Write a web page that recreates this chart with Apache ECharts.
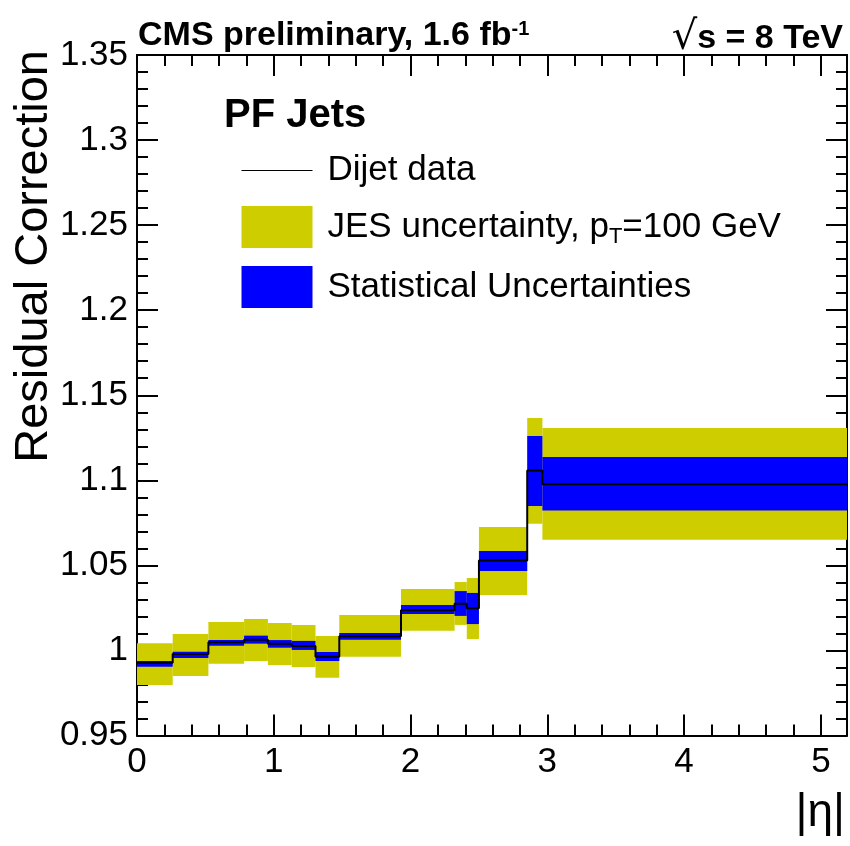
<!DOCTYPE html>
<html>
<head>
<meta charset="utf-8">
<script src="https://cdn.jsdelivr.net/npm/echarts@6/dist/echarts.min.js"></script>
<style>
html,body{margin:0;padding:0;background:#fff;}
#chart{width:850px;height:846px;}
</style>
</head>
<body>
<div id="chart"></div>
<script>
// |eta| bin edges
const etaEdges = [0, 0.261, 0.522, 0.783, 0.957, 1.131, 1.305, 1.479, 1.93, 2.322, 2.411, 2.5, 2.853, 2.964, 5.191];
// Dijet data residual correction (central value per bin)
const dijetValues = [0.9928, 0.9979, 1.0048, 1.0063, 1.0040, 1.0026, 0.9963, 1.0084, 1.0236, 1.0275, 1.0248, 1.0528, 1.1057, 1.0977];
// Statistical uncertainty band
const statLow  = [0.9904, 0.9956, 1.0028, 1.0040, 1.0016, 1.0003, 0.9938, 1.0063, 1.0214, 1.0203, 1.0155, 1.0467, 1.0849, 1.0822];
const statHigh = [0.9938, 0.9993, 1.0061, 1.0087, 1.0061, 1.0056, 0.9991, 1.0103, 1.0267, 1.0349, 1.0338, 1.0585, 1.1261, 1.1137];
// JES uncertainty band, pT = 100 GeV
const jesLow   = [0.9797, 0.9850, 0.9922, 0.9938, 0.9914, 0.9903, 0.9840, 0.9963, 1.0116, 1.0150, 1.0067, 1.0326, 1.0745, 1.0651];
const jesHigh  = [1.0042, 1.0097, 1.0167, 1.0185, 1.0161, 1.0150, 1.0085, 1.0208, 1.0361, 1.0402, 1.0426, 1.0726, 1.1367, 1.1308];

const xTickLabels = ['0', '1', '2', '3', '4', '5'];
const yTickLabels = ['0.95', '1', '1.05', '1.1', '1.15', '1.2', '1.25', '1.3', '1.35'];

const NAME_DATA = 'Dijet data';
const NAME_JES = 'JES uncertainty, pT=100 GeV';
const NAME_STAT = 'Statistical Uncertainties';

const FONT = 'Liberation Sans, Arial, Helvetica, sans-serif';

function bandData(lo, hi) {
  return etaEdges.slice(0, -1).map((e, i) => [e, etaEdges[i + 1], lo[i], hi[i]]);
}
const lineData = dijetValues.map((v, i) => [etaEdges[i], v]);
lineData.push([etaEdges[etaEdges.length - 1], dijetValues[dijetValues.length - 1]]);

function renderBand(params, api) {
  const a = api.coord([api.value(0), api.value(3)]);
  const b = api.coord([api.value(1), api.value(2)]);
  return {
    type: 'rect',
    shape: { x: a[0], y: a[1], width: b[0] - a[0], height: b[1] - a[1] },
    style: { fill: api.visual('color') }
  };
}

const xMin = 0, xMax = 5.191, yMin = 0.95, yMax = 1.35;

function xAxisCfg(pos, showLabel) {
  return {
    type: 'value', position: pos, min: xMin, max: xMax, interval: 1,
    axisLine: { show: true, onZero: false, lineStyle: { color: '#000', width: 2 } },
    axisTick: { show: true, inside: true, length: 21, lineStyle: { color: '#000', width: 2 } },
    minorTick: { show: true, splitNumber: 5, length: 11, lineStyle: { color: '#000', width: 2 } },
    splitLine: { show: false },
    axisLabel: {
      show: showLabel, margin: 9, color: '#000', fontSize: 35, fontFamily: FONT,
      formatter: v => { const i = Math.round(v); return Math.abs(v - i) < 1e-6 && i < xTickLabels.length ? xTickLabels[i] : ''; },
      showMaxLabel: false
    }
  };
}
function yAxisCfg(pos, showLabel) {
  return {
    type: 'value', position: pos, min: yMin, max: yMax, interval: 0.05,
    axisLine: { show: true, onZero: false, lineStyle: { color: '#000', width: 2 } },
    axisTick: { show: true, inside: true, length: 21, lineStyle: { color: '#000', width: 2 } },
    minorTick: { show: true, splitNumber: 5, length: 11, lineStyle: { color: '#000', width: 2 } },
    splitLine: { show: false },
    axisLabel: {
      show: showLabel, margin: 9, color: '#000', fontSize: 35, fontFamily: FONT,
      formatter: v => { const i = Math.round((v - yMin) / 0.05); return yTickLabels[i] || ''; }
    }
  };
}

const chart = echarts.init(document.getElementById('chart'), null, { renderer: 'canvas' });
chart.setOption({
  backgroundColor: '#fff',
  animation: false,
  grid: { left: 137, right: 3, top: 55, bottom: 110.5, containLabel: false },
  xAxis: [xAxisCfg('bottom', true), xAxisCfg('top', false)],
  yAxis: [yAxisCfg('left', true), yAxisCfg('right', false)],
  legend: {
    orient: 'vertical', left: 241, top: 153, padding: 0,
    itemWidth: 71, itemHeight: 42, itemGap: 18,
    selectedMode: false,
    textStyle: {
      fontSize: 35, fontFamily: FONT, color: '#000', padding: [0, 0, 0, 10],
      rich: { sub: { fontSize: 22, fontFamily: FONT, color: '#000', padding: [20, 0, 0, 0] } }
    },
    formatter: function (name) { return name === NAME_JES ? 'JES uncertainty, p{sub|T}=100 GeV' : name; },
    data: [
      { name: NAME_DATA, lineStyle: { width: 1, color: '#000' }, itemStyle: { color: 'rgba(0,0,0,0)', borderWidth: 0 } },
      { name: NAME_JES, icon: 'rect' },
      { name: NAME_STAT, icon: 'rect' }
    ]
  },
  graphic: [
    {
      type: 'text', left: 138, top: 19,
      style: {
        text: 'CMS preliminary, 1.6 fb{sup|-1}', fill: '#000',
        font: 'bold 34px ' + FONT,
        rich: { sup: { fontSize: 20, fontWeight: 'bold', fontFamily: FONT, fill: '#000', padding: [0, 0, 14, 0] } }
      }
    },
    {
      type: 'text', right: 7, top: 19,
      style: {
        text: '{r|\u221A}s = 8 TeV', fill: '#000', font: 'bold 34px ' + FONT,
        rich: { r: { fontSize: 40, fontWeight: 'normal', fontFamily: 'DejaVu Sans', fill: '#000' } }
      }
    },
    {
      type: 'text', left: 224, top: 96,
      style: { text: 'PF Jets', fill: '#000', font: 'bold 40px ' + FONT }
    },
    {
      type: 'text', left: 11, top: 50,
      rotation: Math.PI / 2,
      originX: 0, originY: 0,
      style: { text: 'Residual Correction', fill: '#000', font: '47px ' + FONT }
    },
    {
      type: 'text', right: 5, top: 790,
      style: { text: '|\u03B7|', fill: '#000', font: '46px ' + FONT }
    }
  ],
  series: [
    {
      name: NAME_JES, type: 'custom', renderItem: renderBand,
      itemStyle: { color: '#cdcd00' },
      encode: { x: [0, 1], y: [2, 3] },
      data: bandData(jesLow, jesHigh), z: 1
    },
    {
      name: NAME_STAT, type: 'custom', renderItem: renderBand,
      itemStyle: { color: '#0000ff' },
      encode: { x: [0, 1], y: [2, 3] },
      data: bandData(statLow, statHigh), z: 2
    },
    {
      name: NAME_DATA, type: 'line', step: 'end', showSymbol: false, symbol: 'none',
      lineStyle: { color: '#000', width: 2 }, itemStyle: { color: '#000' },
      data: lineData, z: 3
    }
  ]
});
</script>
</body>
</html>
